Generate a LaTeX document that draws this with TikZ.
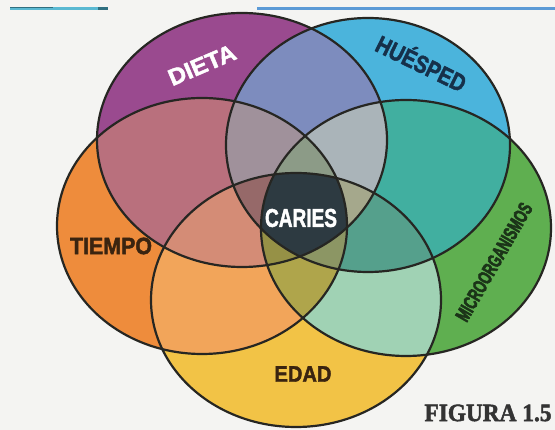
\documentclass[tikz,border=0pt]{standalone}
\usepackage{fontspec}
\usepackage{graphicx}
\newfontfamily\labfont{Liberation Sans}[BoldFeatures={FakeBold=2}]
\newfontfamily\labfontx{Liberation Sans}[BoldFeatures={FakeBold=3.5}]
\newfontfamily\figfont{Liberation Serif}[BoldFeatures={FakeBold=2}]
\definecolor{bgc}{HTML}{F4F4F2}
\definecolor{linec}{HTML}{262622}
\definecolor{cD}{HTML}{9A4A8F}
\definecolor{cH}{HTML}{4BB4DC}
\definecolor{cM}{HTML}{5FAF50}
\definecolor{cE}{HTML}{F2C346}
\definecolor{cT}{HTML}{EE8C3C}
\definecolor{cDH}{HTML}{7D8CBE}
\definecolor{cDT}{HTML}{B9707D}
\definecolor{cHM}{HTML}{41AFA0}
\definecolor{cME}{HTML}{A0D2B4}
\definecolor{cET}{HTML}{F2A55A}
\colorlet{cDM}{cD!50!cM}
\colorlet{cDE}{cD!50!cE}
\colorlet{cHE}{cH!50!cE}
\colorlet{cHT}{cH!50!cT}
\colorlet{cMT}{cM!50!cT}
\definecolor{cDHM}{HTML}{AAB4B9}
\definecolor{cDHT}{HTML}{A0919B}
\definecolor{cDET}{HTML}{D48C76}
\definecolor{cHME}{HTML}{55A08C}
\definecolor{cMET}{HTML}{AFA54B}
\colorlet{cDHE}{cD!50!cH!67!cE}
\colorlet{cDME}{cD!50!cM!67!cE}
\colorlet{cDMT}{cD!50!cM!67!cT}
\colorlet{cHMT}{cH!50!cM!67!cT}
\colorlet{cHET}{cH!50!cE!67!cT}
\definecolor{cDHMT}{HTML}{8C9B87}
\definecolor{cDHET}{HTML}{966969}
\definecolor{cDHME}{HTML}{A5A88C}
\definecolor{cDMET}{HTML}{969146}
\definecolor{cHMET}{HTML}{8C9664}
\definecolor{cAll}{HTML}{2D3A41}
\definecolor{hueC}{HTML}{16304A}
\definecolor{microC}{HTML}{1B3418}
\definecolor{brownC}{HTML}{3A2410}
\definecolor{figC}{HTML}{333333}
\definecolor{barA}{HTML}{5AB9D2}
\definecolor{barB}{HTML}{2F6F80}
\definecolor{barC}{HTML}{5B9AD6}
\def\pD{(242,140) ellipse [x radius=145, y radius=127]}
\def\pH{(368,145) ellipse [x radius=142, y radius=127]}
\def\pM{(406,228) ellipse [x radius=145, y radius=128]}
\def\pE{(296,300) ellipse [x radius=145, y radius=127]}
\def\pT{(202,226) ellipse [x radius=145, y radius=128]}
\newcommand\rgTwo[3]{\begin{scope}\clip #1;\fill[#3] #2;\end{scope}}
\newcommand\rgThree[4]{\begin{scope}\clip #1;\clip #2;\fill[#4] #3;\end{scope}}
\newcommand\rgFour[5]{\begin{scope}\clip #1;\clip #2;\clip #3;\fill[#5] #4;\end{scope}}
\newcommand\rgFive[6]{\begin{scope}\clip #1;\clip #2;\clip #3;\clip #4;\fill[#6] #5;\end{scope}}
\begin{document}
\begin{tikzpicture}[x=1pt,y=-1pt,
  ring/.style={draw=linec, line width=2.2pt},
  lab/.style={inner sep=0pt, font=\labfont\bfseries},
  labx/.style={inner sep=0pt, font=\labfontx\bfseries}]
\useasboundingbox (0,0) rectangle (555,430);
\fill[bgc] (0,0) rectangle (555,430);
% scan strips at the top
\fill[barA] (10,7) rectangle (104,10.5);
\fill[barB] (10,7) rectangle (53,8.2);
\fill[barB] (98,7) rectangle (108,10);
\fill[barC] (257,7) rectangle (555,10.5);
% single sets
\fill[cD] \pD;
\fill[cH] \pH;
\fill[cM] \pM;
\fill[cE] \pE;
\fill[cT] \pT;
% pairs
\rgTwo{\pD}{\pH}{cDH}
\rgTwo{\pD}{\pM}{cDM}
\rgTwo{\pD}{\pE}{cDE}
\rgTwo{\pD}{\pT}{cDT}
\rgTwo{\pH}{\pM}{cHM}
\rgTwo{\pH}{\pE}{cHE}
\rgTwo{\pH}{\pT}{cHT}
\rgTwo{\pM}{\pE}{cME}
\rgTwo{\pM}{\pT}{cMT}
\rgTwo{\pE}{\pT}{cET}
% triples
\rgThree{\pD}{\pH}{\pM}{cDHM}
\rgThree{\pD}{\pH}{\pE}{cDHE}
\rgThree{\pD}{\pH}{\pT}{cDHT}
\rgThree{\pD}{\pM}{\pE}{cDME}
\rgThree{\pD}{\pM}{\pT}{cDMT}
\rgThree{\pD}{\pE}{\pT}{cDET}
\rgThree{\pH}{\pM}{\pE}{cHME}
\rgThree{\pH}{\pM}{\pT}{cHMT}
\rgThree{\pH}{\pE}{\pT}{cHET}
\rgThree{\pM}{\pE}{\pT}{cMET}
% quadruples
\rgFour{\pD}{\pH}{\pM}{\pE}{cDHME}
\rgFour{\pD}{\pH}{\pM}{\pT}{cDHMT}
\rgFour{\pD}{\pH}{\pE}{\pT}{cDHET}
\rgFour{\pD}{\pM}{\pE}{\pT}{cDMET}
\rgFour{\pH}{\pM}{\pE}{\pT}{cHMET}
% all five
\rgFive{\pD}{\pH}{\pM}{\pE}{\pT}{cAll}
% outlines
\draw[ring] \pD;
\draw[ring] \pH;
\draw[ring] \pM;
\draw[ring] \pE;
\draw[ring] \pT;
% labels
\node[lab, text=white, rotate=23] (dieta) at (202,65) {\resizebox{71pt}{16pt}{DIETA}};
\node[lab, text=hueC, rotate=-26] (huesped) at (421,64) {\resizebox{97pt}{17pt}{HU\smash{É}SPED}};
\node[labx, text=microC, rotate=60] (micro) at (494,262) {\resizebox{133pt}{14pt}{MICROORGANISMOS}};
\node[lab, text=brownC] (tiempo) at (111,246) {\resizebox{82pt}{16.5pt}{TIEMPO}};
\node[lab, text=brownC] (edad) at (303,374) {\resizebox{57pt}{15.5pt}{EDAD}};
\node[lab, text=white] (caries) at (301,218) {\resizebox{72pt}{18pt}{CARIES}};
\node[inner sep=0pt, font=\figfont\bfseries, text=figC] (figura) at (488,413) {\resizebox{127pt}{16.5pt}{FIGURA 1.5}};
\end{tikzpicture}
\end{document}
